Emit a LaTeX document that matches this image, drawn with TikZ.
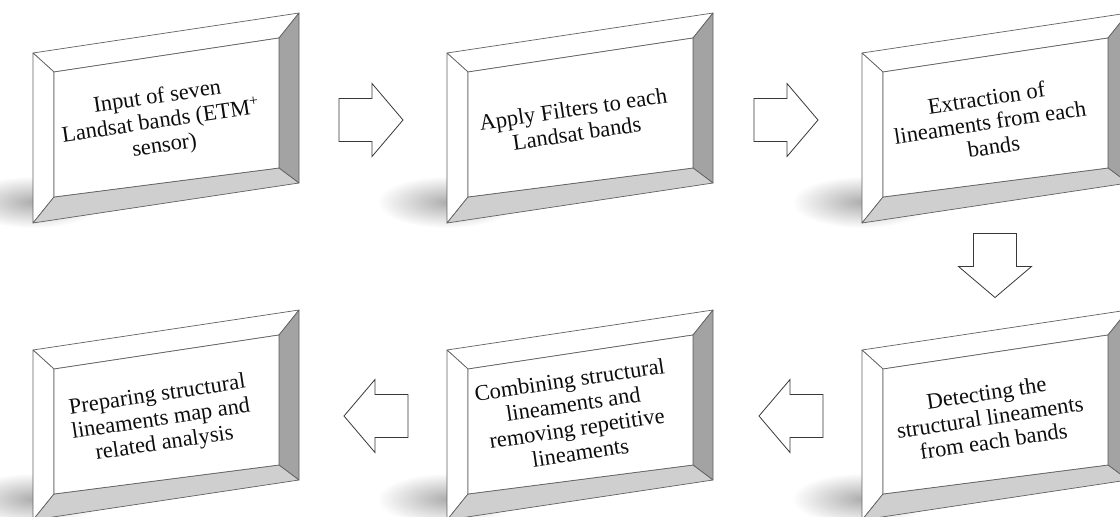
\documentclass[tikz,border=0pt]{standalone}
\usepackage{fontspec}
\setmainfont{Liberation Serif}
\usetikzlibrary{calc}
\tikzset{
  edge/.style={draw=black!62, line width=0.7pt, line join=round},
  litbevel/.style={edge, fill=white},
  sidebevel/.style={edge, fill=black!36},
  basebevel/.style={edge, fill=black!19},
  face/.style={edge, fill=white},
  boxtext/.style={font=\fontsize{22.5}{24.5}\selectfont, align=center, rotate=8.5, text=black!95, inner sep=0pt},
  blockarrow/.style={draw=black!78, fill=white, line width=0.8pt, line join=miter},
  floorshadow/.style={inner color=black!32, outer color=white},
}
\newcommand\BevelBox[6]{% name, x, y, text x, text y, text
  \begin{scope}[shift={(#2,#3)}]
    \shade[floorshadow] (0,149) ellipse [x radius=70, y radius=26];
    \path[litbevel] (0,0) -- (266,-40) -- (246,-15) -- (21,19) -- cycle;
    \path[litbevel] (0,0) -- (21,19) -- (21,144) -- (0,170) -- cycle;
    \path[sidebevel] (266,-40) -- (266,130) -- (246,115) -- (246,-15) -- cycle;
    \path[basebevel] (0,170) -- (21,144) -- (246,115) -- (266,130) -- cycle;
    \path[face] (21,19) -- (246,-15) -- (246,115) -- (21,144) -- cycle;
    \node[boxtext] (#1) at (#4,#5) {#6};
  \end{scope}}
\newcommand\BlockArrow[4]{% name, x, y, angle
  \begin{scope}[shift={(#2,#3)}, rotate=#4]
    \coordinate (#1) at (0,0);
    \path[blockarrow] (-32,-21.5) -- (1,-21.5) -- (1,-36.5) -- (32,0) -- (1,36.5) -- (1,21.5) -- (-32,21.5) -- cycle;
  \end{scope}}
\begin{document}
\begin{tikzpicture}[x=1pt, y=-1pt]
  \useasboundingbox (0,0) rectangle (1120,517);
  \clip (0,0) rectangle (1120,517);
  \fill[white] (0,0) rectangle (1120,517);
  \BevelBox{b1}{33}{53}{128}{69}{Input of seven\\Landsat bands (ETM\textsuperscript{+}\\sensor)}
  \BevelBox{b2}{447}{53}{128}{68}{Apply Filters to each\\Landsat bands}
  \BevelBox{b3}{862}{53}{128}{69}{Extraction of\\lineaments from each\\bands}
  \BevelBox{b4}{33}{350}{128}{70}{Preparing structural\\lineaments map and\\related analysis}
  \BevelBox{b5}{447}{350}{128}{66}{Combining structural\\lineaments and\\removing repetitive\\lineaments}
  \BevelBox{b6}{862}{350}{128}{67}{Detecting the\\structural lineaments\\from each bands}
  \BlockArrow{a12}{371}{120}{0}
  \BlockArrow{a23}{786}{120}{0}
  \BlockArrow{a36}{995}{265.5}{-90}
  \BlockArrow{a65}{791}{416}{180}
  \BlockArrow{a54}{376}{416}{180}
\end{tikzpicture}
\end{document}
